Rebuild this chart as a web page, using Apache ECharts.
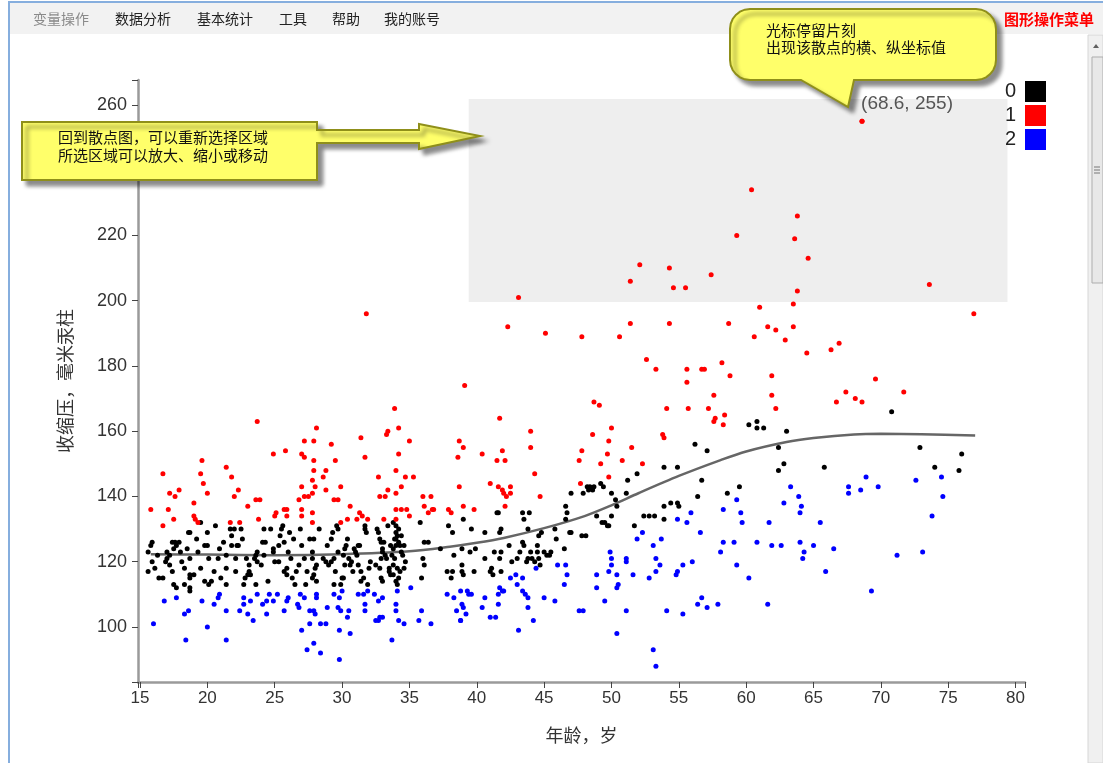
<!DOCTYPE html>
<html>
<head>
<meta charset="utf-8">
<script src="https://cdn.jsdelivr.net/npm/echarts@6/dist/echarts.min.js"></script>
<style>
html, body { margin: 0; padding: 0; background: #fff; }
#chart { width: 1103px; height: 763px; }
</style>
</head>
<body>
<div id="chart"></div>
<script>
// age (years), systolic pressure (mmHg) for each group
var group0 = [
  [15.6,117],[15.8,125],[15.9,126],[15.6,123],[16.4,115],[16.7,115],[16.9,120],[17.0,123],[17.0,121],[17.2,122],
  [17.4,126],[17.6,126],[17.5,124],[17.7,125],[17.9,126],[17.4,117],[17.5,113],[17.7,112],[18.0,123],[18.1,120],
  [18.3,113],[18.7,112],[18.7,111],[18.6,129],[18.7,129],[18.5,124],[18.7,121],[18.7,116],[19.0,116],[18.7,115],
  [19.3,123],[19.5,118],[19.8,114],[20.1,113],[19.8,125],[20.0,125],[20.0,129],[20.1,121],[19.5,132],[20.3,114],
  [20.6,131],[20.8,121],[21.0,115],[21.4,113],[21.4,118],[21.4,122],[21.7,130],[21.8,128],[22.0,130],[21.8,125],
  [22.2,125],[22.1,121],[22.3,125],[22.1,117],[22.5,130],[22.7,113],[22.8,115],[22.9,121],[23.1,119],[23.1,117],
  [23.0,116],[23.2,116],[23.5,121],[23.6,122],[23.7,123],[23.6,113],[23.7,120],[24.0,119],[24.1,126],[24.2,130],
  [24.3,126],[24.2,122],[24.5,114],[24.7,130],[24.9,124],[25.0,120],[24.9,123],[25.3,125],[25.4,128],[25.5,130],
  [25.6,131],[25.7,126],[25.7,117],[25.9,118],[25.9,116],[26.2,121],[26.3,115],[26.5,113],[26.6,117],[26.9,130],
  [27.0,125],[27.2,121],[27.3,113],[27.6,127],[27.8,123],[27.8,121],[27.9,127],[27.8,115],[28.0,118],[28.1,119],
  [27.9,116],[28.1,114],[28.3,130],[28.6,121],[28.8,120],[28.9,125],[29.0,119],[29.2,120],[29.2,127],[29.3,129],
  [29.4,113],[29.5,117],[29.6,131],[29.7,130],[29.9,113],[30.0,115],[30.1,115],[30.1,122],[30.2,124],[30.3,125],
  [30.5,121],[30.6,119],[30.7,120],[30.9,124],[31.0,123],[31.1,122],[31.2,125],[31.3,125],[31.4,117],[31.4,114],
  [31.6,115],[31.7,130],[31.7,131],[31.8,129],[31.9,113],[32.0,118],[32.1,120],[32.6,130],[32.7,129],[32.8,127],
  [32.9,126],[33.0,124],[33.0,123],[32.9,115],[33.0,114],[33.2,122],[33.3,121],[33.4,131],[33.5,118],[33.5,117],
  [33.6,116],[33.7,122],[33.8,132],[34.0,131],[34.0,129],[34.1,128],[34.0,127],[34.0,125],[34.2,126],[34.3,125],
  [34.4,128],[33.8,119],[34.0,114],[34.1,113],[34.2,115],[33.8,116],[34.5,122],[34.7,120],[34.6,125],[35.8,132],
  [35.9,115],[36.0,121],[36.1,119],[36.1,126],[36.4,126],[37.3,124],[37.8,117],[38.1,115],[38.2,117],[38.3,122],
  [37.9,131],[38.2,129],[33.8,124],[33.9,121],[34.1,118],[34.3,117],[33.9,127],[34.2,130],[34.4,123],[33.6,125],
  [34.6,118],[32.8,118],[32.9,121],[33.1,126],[32.5,119],[30.4,127],[30.8,117],[31.2,119],[30.2,119],[29.7,123],
  [29.4,121],[26.0,123],[26.4,127],[26.8,119],[25.3,120],[27.4,117],[26.1,129],[20.5,117],[21.2,126],[22.6,127],
  [20.9,124],[19.2,127],[16.3,122],[17.2,119],[18.3,118],[15.9,120],[16.1,118],
  [38.9,124],[39.0,133],[38.9,119],[38.9,117],[39.0,116],[39.5,123],[39.6,130],[39.8,117],[39.9,124],[40.6,129],
  [40.6,121],[41.0,117],[41.2,116],[41.3,123],[41.1,118],[41.5,135],[41.6,135],[41.7,129],[41.8,130],[41.7,121],
  [41.8,117],[41.8,123],[42.4,125],[42.6,120],[43.0,121],[43.2,123],[43.4,135],[43.4,126],[43.5,125],[43.5,133],
  [43.9,135],[43.8,130],[43.8,121],[43.7,120],[44.0,123],[44.1,121],[44.3,120],[44.5,125],[44.5,123],[44.6,121],
  [44.7,119],[44.6,128],[44.8,129],[45.0,123],[45.2,122],[45.4,122],[45.5,123],[45.8,130],[45.9,127],[46.5,124],
  [46.6,133],[46.6,137],[46.7,135],[46.9,129],[47.0,129],[47.0,141],[47.8,128],[48.1,128],[47.9,141],[48.2,143],
  [48.3,142],[48.4,143],[48.6,142],[48.7,143],[48.9,134],[49.2,144],[49.4,143],[49.3,132],[49.5,132],[49.7,131],
  [49.8,131],[50.0,134],[50.0,141],[50.3,139],[50.4,137],[51.1,141],[51.2,145],[51.7,131],[51.9,147],[52.4,134],
  [52.8,134],[53.2,134],[53.9,133],[53.9,137],[54.4,138],[53.9,149],[54.9,149],[54.9,138],[55.0,137],[56.2,156],
  [56.7,145],[56.4,140],[57.1,154],
  [60.2,162],[60.8,163],[60.8,161],[61.3,161],[63.0,160],[62.4,155],[62.8,150],[62.4,148],[59.5,143],[58.6,141],
  [65.8,149],[70.8,166],[72.9,155],[74.0,149],[75.8,148],[76.0,153]
];
var group1 = [
  [15.8,136],[16.7,147],[16.7,131],[17.1,136],[17.2,141],[17.5,133],[17.6,140],[17.9,142],[19.0,138],[19.0,134],
  [19.1,133],[19.3,132],[19.6,151],[19.5,147],[19.7,144],[20.0,141],[21.4,149],[21.8,146],[22.0,140],[22.3,142],
  [23.0,137],[23.6,139],[23.9,139],[23.7,163],[23.8,133],[21.7,132],[22.4,132],[24.9,153],[25.0,134],[25.1,135],
  [25.7,136],[25.9,136],[25.9,134],[25.8,154],[26.8,139],[27.0,143],[27.0,153],[27.2,152],[27.2,140],[27.5,140],
  [27.8,141],[27.2,157],[27.9,157],[28.1,161],[27.9,151],[27.9,148],[27.8,145],[28.0,143],[27.0,136],[27.0,134],
  [27.8,135],[27.8,132],[28.6,146],[28.8,148],[28.8,142],[29.2,156],[29.5,151],[29.4,139],[29.7,139],[29.9,132],
  [29.9,143],[30.6,137],[30.4,133],[31.1,133],[31.3,135],[31.5,134],[31.4,158],[31.7,152],[31.9,133],[32.7,146],
  [32.8,140],[33.2,140],[33.1,133],[33.3,159],[33.4,160],[33.4,142],[33.9,167],[34.0,148],[34.0,141],[34.0,136],
  [34.0,133],[34.2,161],[34.2,153],[34.4,143],[34.7,146],[34.4,136],[34.8,136],[35.0,134],[35.0,157],[35.3,146],
  [36.0,140],[36.6,140],[36.1,137],[36.4,135],[36.7,136],[36.8,136],[37.9,136],[38.1,135],[38.7,157],[38.7,143],
  [38.6,152],[31.8,196],
  [39.1,174],[39.0,155],[39.0,137],[39.8,136],[40.4,153],[41.0,144],[41.5,151],[41.9,154],[42.1,151],[41.7,164],
  [41.6,143],[41.9,142],[42.0,141],[42.2,140],[42.5,143],[42.5,141],[42.1,137],[44.0,160],[44.0,155],[44.3,147],
  [44.7,140],[47.6,151],[47.8,154],[47.7,144],[48.6,159],[48.7,169],[49.1,168],[49.2,150],[49.7,153],[49.8,157],
  [50.0,161],[49.8,146],[50.8,151],[51.5,155],[52.3,150],[53.8,159],[53.9,158],[54.1,167],[55.7,167],[55.6,175],
  [57.2,167],[57.6,171],[57.7,164],[57.6,163],
  [58.4,165],[58.3,162],[61.9,171],[62.2,167],[67.4,172],[66.7,169],[68.1,170],[68.6,169],[69.6,176],[71.7,172],
  [60.4,234],[63.8,226],[59.3,220],[63.6,219],[64.6,213],[52.1,211],[54.3,210],[51.4,206],[54.6,204],[55.5,204],
  [57.4,208],[73.6,205],[63.8,203],[43.1,201],[63.5,199],[61.0,198],[76.9,196],[42.3,192],[45.1,190],[47.8,189],
  [50.6,189],[51.4,193],[54.3,193],[58.7,193],[60.6,189],[61.6,192],[62.2,191],[63.5,192],[62.9,188],[64.5,184],
  [66.3,185],[66.9,187],[52.6,182],[53.3,179],[55.6,179],[56.7,179],[56.9,179],[58.2,181],[58.8,177],[61.9,177],
  [68.6,255]
];
var group2 = [
  [16.0,101],[16.8,108],[17.7,109],[18.3,104],[18.6,105],[18.4,96],[19.6,108],[20.0,100],[20.5,107],[20.8,109],
  [20.9,110],[21.4,96],[21.4,105],[22.4,105],[22.7,109],[22.7,107],[23.0,104],[23.2,108],[23.4,102],[23.7,110],
  [24.1,107],[24.4,108],[24.6,110],[24.4,104],[24.9,108],[25.2,110],[25.7,105],[25.9,108],[26.0,109],[26.7,107],
  [26.8,106],[26.9,110],[27.0,99],[27.2,109],[27.4,93],[27.6,101],[27.6,105],[27.9,105],[27.9,95],[28.0,104],
  [28.1,109],[28.1,110],[28.4,101],[28.4,92],[28.9,106],[28.8,101],[29.4,110],[29.8,109],[29.7,106],[29.9,105],
  [29.8,99],[29.8,90],[30.4,103],[30.5,105],[30.6,98],[30.0,111],[31.2,110],[31.6,110],[31.9,111],[31.7,107],
  [31.7,105],[32.4,110],[32.7,108],[33.0,109],[32.5,102],[32.8,103],[33.0,103],[32.7,102],[33.7,96],[34.0,107],
  [34.0,105],[34.1,111],[34.2,102],[34.6,101],[35.1,112],[35.7,102],[35.9,105],[36.6,101],[37.8,110],[38.3,109],
  [38.5,105],[38.8,102],
  [38.8,111],[38.9,107],[39.0,106],[39.2,104],[38.8,102],[39.3,111],[39.4,110],[39.6,110],[40.4,106],[40.6,109],
  [41.0,103],[41.4,103],[41.6,107],[41.7,112],[41.9,111],[42.0,111],[41.6,110],[42.5,115],[42.9,116],[43.0,113],
  [43.4,115],[43.4,111],[43.6,110],[43.8,109],[43.8,106],[44.2,102],[43.1,99],[44.4,118],[45.0,109],[45.8,108],
  [46.0,119],[46.6,119],[46.7,116],[46.5,113],[47.6,105],[47.9,105],[48.9,116],[48.9,112],[49.5,108],[49.8,117],
  [49.9,123],[50.0,121],[50.0,119],[50.4,116],[50.4,112],[50.5,113],[50.4,98],[51.1,121],[51.1,120],[51.1,105],
  [51.6,116],[51.9,127],[52.3,129],[52.8,115],[53.1,125],[53.3,117],[53.3,121],[53.6,119],[53.7,127],[53.1,93],
  [53.3,88],[54.1,105],[54.8,116],[54.9,117],[54.9,133],[55.3,119],[55.3,104],[55.6,132],[55.9,135],[56.0,120],
  [56.4,107],[56.7,109],[56.6,129],[57.1,106],[57.9,107],[58.1,123],
  [63.3,143],[63.9,140],[64.1,137],[64.0,135],[62.8,138],[59.3,139],[58.3,136],[59.6,135],[59.7,132],[58.3,126],
  [59.1,126],[59.3,119],[60.2,115],[60.8,126],[61.7,132],[61.9,125],[62.6,125],[61.6,107],[64.0,126],[64.3,123],
  [64.2,121],[65.0,125],[65.5,132],[65.9,117],[66.5,124],[67.6,143],[67.6,141],[68.5,142],[68.9,146],[69.8,143],
  [69.3,111],[71.2,122],[72.6,145],[73.1,123],[73.8,134],[74.5,146],[74.6,140]
];

// smoothed trend
var curveAge = [15.8, 20, 25, 30, 35, 38, 40, 42, 45, 48, 50, 52, 55, 58, 60, 63, 65, 68, 70, 73, 77];
var curveBp = [122.3, 122.2, 122, 122.3, 123.2, 124.6, 125.8, 127.3, 130.3, 134, 137.3, 141, 146.3, 151, 153.8, 156.7, 157.9, 159, 159.2, 159.1, 158.7];

var xTicks = [15, 20, 25, 30, 35, 40, 45, 50, 55, 60, 65, 70, 75, 80];
var yTicks = [100, 120, 140, 160, 180, 200, 220, 240, 260];
var xRange = [14.85, 80.7];
var yRange = [83.14, 267.66];

var selection = [[39.4, 261.8], [79.4, 199.6]];
var hoverPoint = [68.6, 255];

var groupNames = ['0', '1', '2'];
var groupColors = ['#000000', '#ff0000', '#0000ff'];

var menuItems = ['变量操作', '数据分析', '基本统计', '工具', '帮助', '我的账号'];
var menuX = [33, 115, 197, 279, 332, 384];
var menuRight = '图形操作菜单';
var tipTop = ['光标停留片刻', '出现该散点的横、纵坐标值'];
var tipLeft = ['回到散点图，可以重新选择区域', '所选区域可以放大、缩小或移动'];

var cjk = '"Noto Sans CJK SC", sans-serif';
var latin = '"Liberation Sans", Arial, sans-serif';

var curve = curveAge.map(function (a, i) { return [a, curveBp[i]] });

// outline of a rounded box, clockwise, with optional extra points on the bottom edge
function roundedBox(x, y, w, h, r, bottomPts) {
  var pts = [];
  function arc(cx, cy, a0) {
    for (var k = 0; k <= 6; k++) {
      var a = (a0 + k * 15) * Math.PI / 180;
      pts.push([cx + r * Math.cos(a), cy + r * Math.sin(a)]);
    }
  }
  arc(x + r, y + r, 180);
  arc(x + w - r, y + r, 270);
  arc(x + w - r, y + h - r, 0);
  (bottomPts || []).forEach(function (p) { pts.push(p) });
  arc(x + r, y + h - r, 90);
  return pts;
}

var graphics = [];
// browser chrome: menu bar, borders, scrollbar
graphics.push({ type: 'rect', shape: { x: 8, y: 3, width: 1095, height: 31 }, style: { fill: '#f2f2f2' }, z: 50 });
graphics.push({ type: 'rect', shape: { x: 8, y: 1, width: 1095, height: 2 }, style: { fill: '#86aede' }, z: 51 });
graphics.push({ type: 'rect', shape: { x: 8, y: 1, width: 2, height: 762 }, style: { fill: '#86aede' }, z: 51 });
menuItems.forEach(function (m, i) {
  graphics.push({ type: 'text', x: menuX[i], y: 19, z: 52, style: {
    text: m, font: '14px ' + cjk, fill: i == 0 ? '#8a8a8a' : '#222', verticalAlign: 'middle' } });
});
graphics.push({ type: 'text', x: 1004, y: 19, z: 52, style: {
  text: menuRight, font: 'bold 15px ' + cjk, fill: '#ff0000', verticalAlign: 'middle' } });
graphics.push({ type: 'rect', shape: { x: 1088, y: 35, width: 15, height: 728 }, style: { fill: '#f0f0f0', stroke: '#d6d6d6', lineWidth: 1 }, z: 50 });
graphics.push({ type: 'polygon', shape: { points: [[1093, 48], [1099, 48], [1096, 44]] }, style: { fill: '#606060' }, z: 51 });
graphics.push({ type: 'rect', shape: { x: 1092, y: 57, width: 11, height: 226 }, style: { fill: '#e8e8e8', stroke: '#adadad', lineWidth: 1 }, z: 51 });
[167, 170, 173].forEach(function (y) {
  graphics.push({ type: 'line', shape: { x1: 1094, y1: y, x2: 1100, y2: y }, style: { stroke: '#777', lineWidth: 1 }, z: 52 });
});

// yellow callouts
var bubbleStyle = {
  fill: '#ffff6a', stroke: '#8f8f1a', lineWidth: 2,
  shadowBlur: 4, shadowOffsetX: 5, shadowOffsetY: 5, shadowColor: 'rgba(0,0,0,0.45)'
};
graphics.push({ type: 'polygon', z: 60, shape: {
  points: roundedBox(730, 9, 266, 71, 20, [[854, 80], [848, 107], [801, 80]])
}, style: bubbleStyle });
graphics.push({ type: 'text', x: 766, y: 22, z: 61, style: {
  text: tipTop.join('\n'), font: '15px ' + cjk, fill: '#111', lineHeight: 17 } });
graphics.push({ type: 'polygon', z: 60, shape: {
  points: [[22, 122], [317, 122], [317, 130], [419, 130], [419, 124], [480, 136], [419, 149], [419, 143], [317, 143], [317, 180], [22, 180]]
}, style: bubbleStyle });
graphics.push({ type: 'text', x: 58, y: 128, z: 61, style: {
  text: tipLeft.join('\n'), font: '15px ' + cjk, fill: '#111', lineHeight: 18 } });

var scatterSeries = groupNames.map(function (name, i) {
  var s = {
    name: name, type: 'scatter', data: [group0, group1, group2][i],
    symbolSize: 5, itemStyle: { color: groupColors[i], opacity: 1 }, z: 3
  };
  if (i == 1) {
    s.markPoint = {
      silent: true, symbol: 'circle', symbolSize: 5, itemStyle: { color: '#ff0000' },
      label: { show: true, position: 'inside', offset: [45, -18], color: '#555', fontSize: 19, fontFamily: latin,
        formatter: '(' + hoverPoint[0] + ', ' + hoverPoint[1] + ')' },
      data: [{ coord: hoverPoint }]
    };
  }
  return s;
});

var chart = echarts.init(document.getElementById('chart'));
chart.setOption({
  animation: false,
  grid: { left: 138, right: 78, top: 80, bottom: 81, outerBoundsMode: 'none' },
  legend: {
    data: groupNames, orient: 'vertical', right: 57, top: 81, padding: 0, align: 'right',
    icon: 'rect', itemWidth: 21, itemHeight: 21, itemGap: 3,
    textStyle: { fontSize: 20, color: '#222', fontFamily: latin, lineHeight: 21, padding: [0, 4, 0, 0] }
  },
  xAxis: {
    type: 'value', min: xRange[0], max: xRange[1],
    name: '年龄，岁', nameLocation: 'middle', nameGap: 44,
    nameTextStyle: { fontSize: 18, color: '#333', fontFamily: cjk },
    axisLine: { show: true, onZero: false, lineStyle: { color: '#9a9a9a', width: 2.5 } },
    axisTick: { show: true, length: 6, lineStyle: { color: '#444', width: 1 }, customValues: [xRange[0]].concat(xTicks, [xRange[1]]) },
    axisLabel: { customValues: xTicks, fontSize: 17, color: '#333', margin: 8, fontFamily: latin },
    splitLine: { show: false }
  },
  yAxis: {
    type: 'value', min: yRange[0], max: yRange[1],
    name: '收缩压，毫米汞柱', nameLocation: 'middle', nameGap: 64, nameRotate: 90,
    nameTextStyle: { fontSize: 18, color: '#333', fontFamily: cjk },
    axisLine: { show: true, onZero: false, lineStyle: { color: '#9a9a9a', width: 2.5 } },
    axisTick: { show: true, length: 6, lineStyle: { color: '#444', width: 1 }, customValues: [yRange[0]].concat(yTicks, [yRange[1]]) },
    axisLabel: { customValues: yTicks, fontSize: 18, color: '#333', margin: 11, fontFamily: latin },
    splitLine: { show: false }
  },
  graphic: graphics,
  series: [{
    name: 'trend', type: 'line', data: curve, smooth: 0.3, symbol: 'none', z: 2,
    lineStyle: { color: '#666', width: 2.5 },
    markArea: {
      silent: true, itemStyle: { color: '#eeeeee', opacity: 1 },
      data: [[{ coord: selection[0] }, { coord: selection[1] }]]
    }
  }].concat(scatterSeries)
});
</script>
</body>
</html>
